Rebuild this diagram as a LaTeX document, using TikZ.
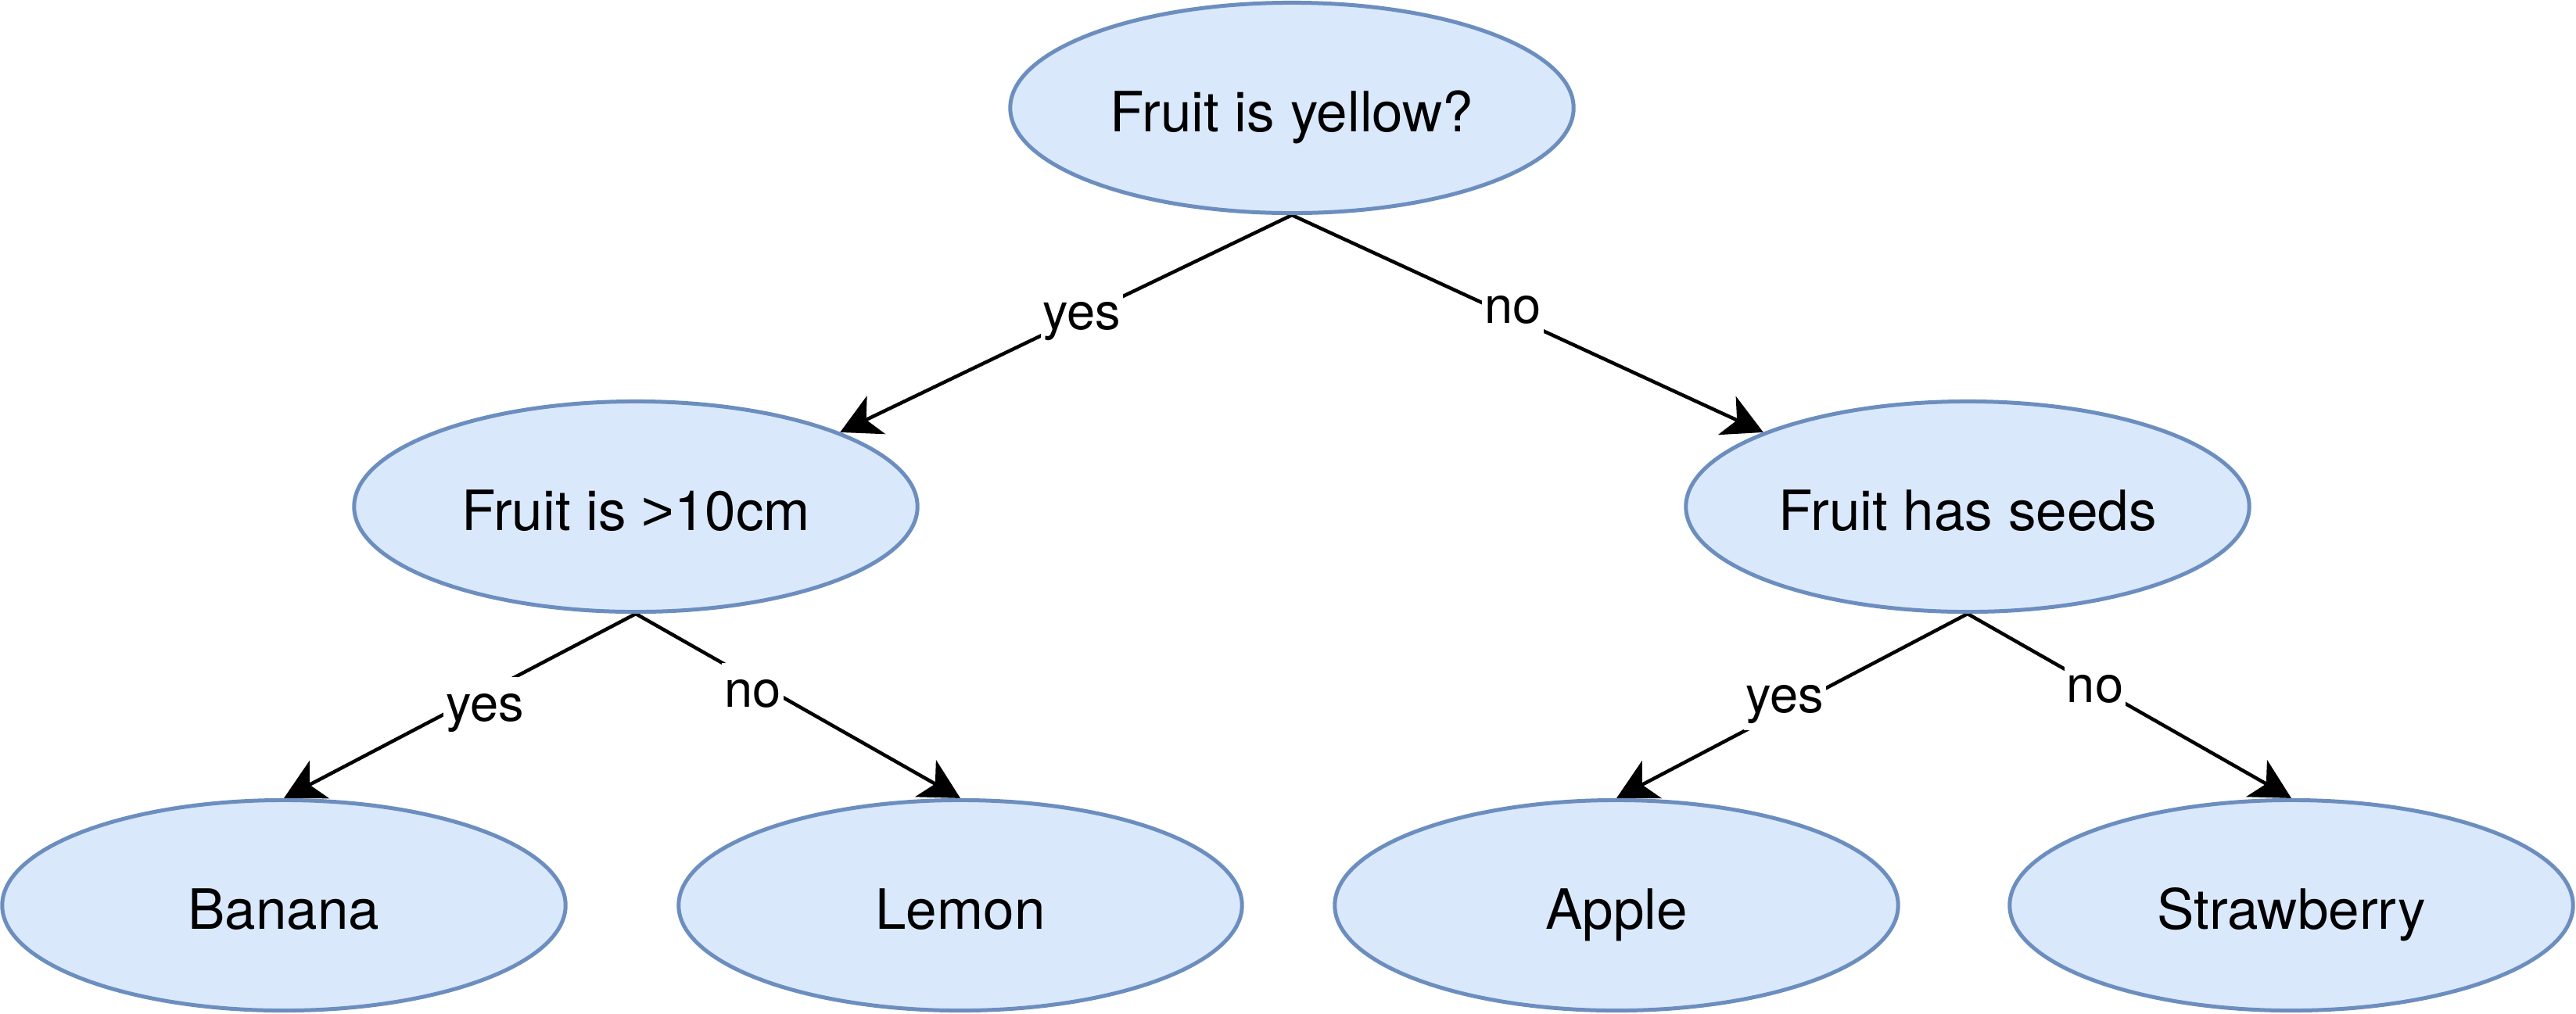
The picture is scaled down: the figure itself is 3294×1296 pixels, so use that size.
\documentclass[tikz,border=0pt]{standalone}
\usepackage{fontspec}
\setmainfont{TeX Gyre Heros}
\newfontfamily\gtfont{Liberation Sans}
\usetikzlibrary{arrows.meta,shapes.geometric,backgrounds}
\definecolor{nodefill}{HTML}{DAE8FC}
\definecolor{nodeline}{HTML}{6C8EBF}
\begin{document}
\begin{tikzpicture}[x=0.01cm,y=-0.01cm,
  fruit/.style={ellipse, draw=nodeline, fill=nodefill, line width=0.05cm,
    minimum width=7.2cm, minimum height=2.69cm, inner sep=0pt,
    font=\fontsize{20.2pt}{24pt}\selectfont, text height=0.603cm, text depth=0pt},
  edge/.style={line width=0.045cm, draw=black,
    -{Stealth[length=0.51cm,width=0.54cm,inset=0.14cm]}},
  lab/.style={fill=white, inner xsep=0.03cm, inner ysep=0pt,
    font=\fontsize{18.5pt}{22pt}\selectfont, text height=0.56cm, text depth=0.22cm}]
\useasboundingbox (0,0) rectangle (3294,1296);
\node[fruit] (top) at (1652,138) {Fruit is yellow?};
\node[fruit] (ml) at (813,648) {Fruit is {\gtfont >}10cm};
\node[fruit] (mr) at (2516,648) {Fruit has seeds};
\node[fruit] (banana) at (363,1158) {Banana};
\node[fruit] (lemon) at (1228,1158) {Lemon};
\node[fruit] (apple) at (2067,1158) {Apple};
\node[fruit] (straw) at (2930,1158) {Strawberry};
\begin{pgfonlayer}{background}
\fill[white] (0,0) rectangle (3294,1296);
\draw[edge] (top.south) -- node[lab,pos=0.465] (l1) {yes} (ml.20);
\draw[edge] (top.south) -- node[lab,pos=0.4685,yshift=0.09cm] (l2) {no} (mr.160);
\draw[edge] (ml.south) -- node[lab,pos=0.429,yshift=-0.19cm] (l3) {yes} (banana.north);
\draw[edge] (ml.south) -- node[lab,pos=0.36,yshift=-0.17cm] (l4) {no} (lemon.north);
\draw[edge] (mr.south) -- node[lab,pos=0.52,yshift=0.13cm] (l5) {yes} (apple.north);
\draw[edge] (mr.south) -- node[lab,pos=0.394,yshift=-0.03cm] (l6) {no} (straw.north);
\end{pgfonlayer}
\end{tikzpicture}
\end{document}
